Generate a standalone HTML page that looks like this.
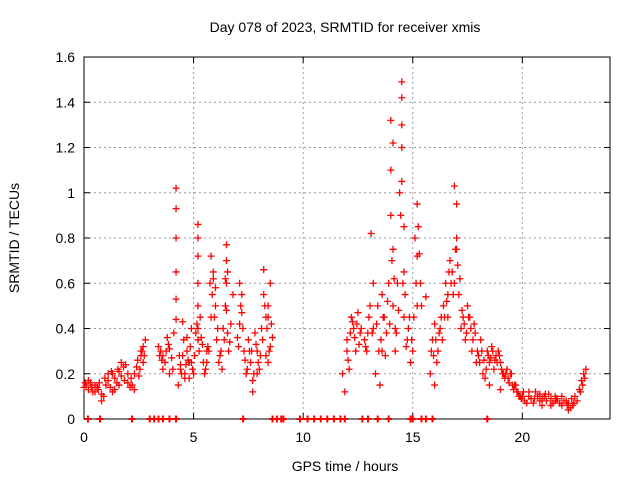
<!DOCTYPE html>
<html><head><meta charset="utf-8"><style>
body{margin:0;background:#fff}
svg text{font-family:"Liberation Sans",sans-serif;font-size:14px;fill:#000}
</style></head><body>
<svg id="chart" width="640" height="480">
<rect width="640" height="480" fill="#fff"/>
<g id="grid"></g>
<g id="axes"></g>
<g id="marks"></g>
<text x="345" y="32" text-anchor="middle">Day 078 of 2023, SRMTID for receiver xmis</text>
<text x="345" y="471" text-anchor="middle">GPS time / hours</text>
<text x="0" y="0" text-anchor="middle" transform="translate(19,238) rotate(-90)">SRMTID / TECUs</text>
</svg>
<script>
const xTicks=[0,5,10,15,20];
const yTicks=[0,0.2,0.4,0.6,0.8,1,1.2,1.4,1.6];
const yTickLabels=["0","0.2","0.4","0.6","0.8","1","1.2","1.4","1.6"];
const hours=[0,0.1,0.2,0.3,0.4,0.5,0.6,0.7,0.8,0.9,1.0,1.1,1.2,1.3,1.4,1.5,1.6,1.7,1.8,1.9,2.0,2.1,2.2,2.3,2.4,2.5,2.6,2.7,2.8,
0.2,0.5,0.8,1.1,1.4,1.7,2.0,2.3,2.6,2.75,
3.4,3.5,3.6,3.7,3.8,3.9,4.0,4.1,4.2,4.2,4.2,4.2,4.2,4.2,4.3,4.4,4.5,4.6,4.7,4.8,4.9,5.0,3.6,3.9,4.5,4.7,4.9,
5.2,5.2,5.2,5.2,5.2,5.2,5.2,5.1,5.3,5.4,5.5,5.6,5.7,5.8,5.9,6.0,6.1,6.2,6.3,6.4,6.5,6.5,6.5,6.5,6.6,6.7,6.8,
7.0,7.1,7.2,7.3,7.4,7.5,7.6,7.7,7.8,7.9,8.0,8.1,8.2,8.3,8.4,8.5,8.6,8.2,8.4,8.5,7.2,7.7,
11.8,11.9,12.0,12.0,12.1,12.2,12.3,12.4,12.5,12.6,12.8,12.9,13.0,13.1,13.2,13.2,
13.3,13.4,13.5,13.6,13.6,13.7,13.8,13.9,14.0,14.0,14.0,14.1,14.1,14.1,14.2,14.2,14.3,14.4,14.5,14.5,14.5,14.5,14.5,14.6,14.6,14.6,14.7,14.8,14.9,
15.0,15.1,15.2,15.2,15.2,15.3,15.4,15.6,15.8,15.9,16.0,16.1,16.2,16.3,16.0,
16.4,16.5,16.6,16.7,16.8,16.9,17.0,17.0,17.0,17.1,17.2,17.3,17.4,17.5,16.6,16.9,
17.6,17.7,17.8,17.9,18.0,18.1,18.2,18.3,18.4,18.5,18.6,18.7,18.8,18.9,19.0,19.1,19.2,19.3,19.4,19.5,19.6,19.7,19.8,19.9,18.5,19.0,
20.0,20.2,20.4,20.6,20.8,21.0,21.2,21.4,21.6,21.8,22.0,22.2,22.4,22.6,22.7,22.8,22.9,20.3,20.9,21.5,22.1,
0.05,0.35,0.65,0.95,1.25,1.55,1.85,2.15,2.45,2.65,2.7,2.55,1.6,1.3,
3.45,3.55,3.75,3.85,4.05,4.35,4.45,4.55,4.65,4.75,4.85,4.95,5.05,4.4,4.6,4.8,
5.25,5.15,5.35,5.45,5.55,5.65,5.75,5.85,5.95,6.05,6.15,6.25,6.35,6.45,6.55,6.55,6.65,5.8,5.9,6.0,5.6,6.45,
7.05,7.15,7.25,7.35,7.45,7.55,7.65,7.75,7.85,7.95,8.05,8.15,8.25,8.35,8.45,8.55,8.3,8.4,7.1,7.9,
12.05,12.15,12.25,12.35,12.45,12.55,12.65,12.85,12.95,13.05,13.15,13.35,13.45,13.55,13.65,13.75,13.85,13.95,14.05,14.15,14.25,14.35,14.45,14.55,14.65,14.75,14.85,14.95,
15.05,15.15,15.25,15.35,15.85,15.95,16.05,16.15,16.25,16.35,16.45,16.55,16.65,16.75,16.85,16.95,17.05,17.15,17.25,17.35,17.45,17.55,
17.65,17.75,17.85,17.95,18.05,18.15,18.25,18.35,18.45,18.55,18.65,18.75,18.85,18.95,19.05,19.15,19.25,19.35,19.45,19.55,19.65,19.75,19.85,19.95,
20.1,20.3,20.5,20.7,20.9,21.1,21.3,21.5,21.7,21.9,22.1,22.3,22.5,22.65,22.75,22.85,20.05,20.55,21.05,21.55,22.05,22.35,20.8,21.3,21.8,22.25];
const values=[.14,.15,.13,.16,.12,.15,.14,.16,.08,.1,.15,.17,.14,.2,.18,.16,.21,.19,.23,.24,.16,.14,.15,.2,.23,.19,.28,.32,.35,
.17,.12,.11,.2,.13,.25,.2,.13,.3,.28,
.32,.3,.28,.25,.36,.2,.27,.38,1.02,.93,.8,.65,.53,.44,.15,.22,.43,.2,.3,.18,.25,.2,.22,.31,.28,.36,.4,
.86,.8,.72,.6,.5,.4,.35,.38,.45,.33,.2,.25,.3,.72,.65,.5,.4,.28,.22,.35,.77,.7,.6,.48,.3,.42,.55,
.36,.6,.47,.3,.2,.35,.25,.12,.38,.3,.22,.4,.66,.45,.5,.32,.36,.55,.25,.6,.55,.17,
.2,.12,.3,.35,.22,.45,.4,.3,.47,.38,.35,.3,.45,.82,.6,.4,
.2,.5,.15,.3,.55,.45,.38,.6,.9,1.1,1.32,.75,1.22,.5,.4,.3,.6,1.0,1.49,1.42,1.3,1.2,1.05,.85,.65,.45,.32,.4,.25,
.3,.8,.95,.72,.5,.73,.5,.54,.2,.35,.42,.25,.38,.45,.15,
.5,.6,.45,.7,.65,1.03,.95,.8,.75,.55,.4,.45,.35,.5,.55,.6,
.45,.3,.42,.25,.28,.35,.2,.18,.3,.25,.32,.22,.28,.3,.25,.2,.18,.22,.16,.2,.13,.15,.12,.1,.15,.13,
.1,.07,.09,.12,.08,.1,.11,.07,.09,.06,.08,.05,.1,.13,.17,.2,.22,.12,.06,.1,.04,
.16,.14,.13,.18,.21,.22,.17,.18,.26,.3,.25,.22,.15,.12,
.28,.26,.3,.33,.22,.28,.2,.35,.24,.26,.32,.22,.28,.24,.18,.25,
.3,.42,.36,.25,.22,.32,.6,.55,.45,.35,.25,.3,.4,.5,.65,.38,.34,.45,.62,.58,.3,.62,
.32,.5,.4,.26,.22,.3,.3,.2,.33,.25,.28,.35,.5,.4,.3,.42,.28,.45,.42,.2,
.26,.38,.43,.36,.42,.33,.4,.32,.38,.5,.38,.42,.3,.35,.45,.28,.52,.42,.7,.62,.38,.48,.9,.6,.55,.35,.45,.35,
.45,.6,.85,.6,.3,.28,.35,.3,.4,.35,.45,.52,.65,.6,.55,.75,.68,.62,.48,.42,.38,.45,
.4,.35,.38,.3,.25,.3,.26,.22,.28,.27,.3,.26,.25,.28,.22,.2,.2,.18,.2,.15,.15,.12,.1,.09,
.08,.1,.07,.1,.09,.08,.09,.08,.07,.08,.07,.06,.08,.12,.15,.18,.12,.09,.11,.09,.06,.07,.11,.06,.1,.09];
const zeroHours=[0.18,0.73,2.19,3.0,3.2,3.4,3.6,3.9,4.2,7.26,8.6,8.8,9.0,9.1,9.85,10.2,10.5,10.8,11.1,11.4,11.7,11.9,12.7,12.96,13.4,13.9,14.9,15.0,15.4,15.6,15.9,18.4];
const L=84,R=610,T=57,B=419;
const xs=h=>L+(R-L)*h/24;
const ys=v=>B-(B-T)*v/1.6;
const NS="http://www.w3.org/2000/svg";
function mk(tag,attrs,parent){const e=document.createElementNS(NS,tag);for(const k in attrs)e.setAttribute(k,attrs[k]);parent.appendChild(e);return e;}
const grid=document.getElementById('grid'),axes=document.getElementById('axes'),marks=document.getElementById('marks');
yTicks.forEach((t,i)=>{const y=ys(t);
 if(i>0&&i<yTicks.length-1){const g=mk('line',{x1:L,x2:R,y1:y,y2:y,stroke:'#999','stroke-dasharray':'2,3'},grid);
 
 }
 const tx=mk('text',{x:L-9,y:y+5,'text-anchor':'end'},axes);tx.textContent=yTickLabels[i];
 
 
 mk('line',{x1:L,x2:L+6,y1:y,y2:y,stroke:'#000'},axes);mk('line',{x1:R,x2:R-6,y1:y,y2:y,stroke:'#000'},axes);
});
xTicks.forEach(t=>{const x=xs(t);
 if(t>0){const g=mk('line',{x1:x,x2:x,y1:T,y2:B,stroke:'#999','stroke-dasharray':'2,3'},grid);
 
 }
 const tx=mk('text',{x:x,y:B+23,'text-anchor':'middle'},axes);tx.textContent=String(t);
 
 
 mk('line',{x1:x,x2:x,y1:B,y2:B-6,stroke:'#000'},axes);mk('line',{x1:x,x2:x,y1:T,y2:T+6,stroke:'#000'},axes);
});
const fr=mk('rect',{x:L,y:T,width:R-L,height:B-T,fill:'none',stroke:'#000'},axes);


let d='';
hours.forEach((h,i)=>{const x=xs(h),y=ys(values[i]);d+=`M${x-3.5},${y}h7M${x},${y-3.5}v7`;});
const p=mk('path',{d:d,stroke:'#f00','stroke-width':1.3,fill:'none'},marks);


let z='';
zeroHours.forEach(h=>{const x=xs(h),y=ys(0);z+=`M${x-3.5},${y}h7M${x},${y-3.5}v7`;});
const zp=mk('path',{d:z,stroke:'#f00','stroke-width':2,fill:'none'},marks);


</script>
</body></html>
